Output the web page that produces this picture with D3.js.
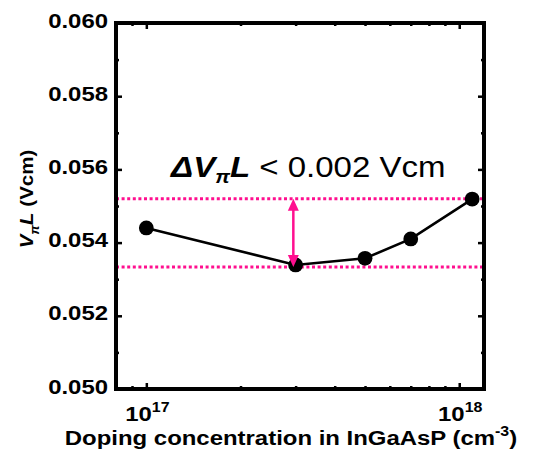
<!DOCTYPE html>
<html>
<head>
<meta charset="utf-8">
<script src="https://cdn.jsdelivr.net/npm/d3@7"></script>
<style>
  body { margin: 0; background: #fff; }
  text { font-family: 'Liberation Sans', Arial, sans-serif; }
</style>
</head>
<body>
<div id="chart"></div>
<script>
// data
const dopingConc = [1e17, 3e17, 5e17, 7e17, 1.1e18];
const vpiL = [0.05440, 0.05339, 0.05357, 0.05410, 0.05519];
const boundLines = [0.05520, 0.05333];
const arrowAt = 2.95e17;
const yTicks = [0.050, 0.052, 0.054, 0.056, 0.058, 0.060];
const xTickExp = [17, 18];

// measures
const width = 533, height = 458;
const plotLeft = 116, plotRight = 484, plotTop = 23, plotBottom = 389;
const sx = 1.14; // text looks stretched a bit horizontally
const pink = '#ff0f8f';

const svg = d3.select('#chart').append('svg')
    .attr('width', width)
    .attr('height', height);

const x = d3.scaleLog().domain([8e16, 1.2e18]).range([plotLeft, plotRight]);
const y = d3.scaleLinear().domain([0.050, 0.060]).range([plotBottom, plotTop]);

// minor + major ticks, pointing inward on all four sides
const xMinor = x.ticks().filter(d => Math.abs(Math.log10(d) - Math.round(Math.log10(d))) > 1e-6);
const xMajor = xTickExp.map(e => Math.pow(10, e));
const yMinor = d3.range(0.051, 0.0600, 0.002);

function ticks(axisFn, scale, values, size, pos) {
    svg.append('g')
        .attr('transform', pos)
        .call(axisFn(scale).tickValues(values).tickSize(size).tickFormat(''))
        .call(g => g.select('.domain').remove())
        .call(g => g.selectAll('line').attr('stroke', '#000').attr('stroke-width', 2.5));
}
ticks(d3.axisBottom, x, xMinor, -3, `translate(0,${plotBottom})`);
ticks(d3.axisBottom, x, xMajor, -6, `translate(0,${plotBottom})`);
ticks(d3.axisTop, x, xMinor, -3, `translate(0,${plotTop})`);
ticks(d3.axisTop, x, xMajor, -6, `translate(0,${plotTop})`);
ticks(d3.axisLeft, y, yMinor, -3, `translate(${plotLeft},0)`);
ticks(d3.axisLeft, y, yTicks, -6, `translate(${plotLeft},0)`);
ticks(d3.axisRight, y, yMinor, -3, `translate(${plotRight},0)`);
ticks(d3.axisRight, y, yTicks, -6, `translate(${plotRight},0)`);

// bound lines (dotted pink)
svg.selectAll('.bound').data(boundLines).enter().append('line')
    .attr('x1', plotLeft).attr('x2', plotRight)
    .attr('y1', d => y(d)).attr('y2', d => y(d))
    .attr('stroke', pink)
    .attr('stroke-width', 3)
    .attr('stroke-dasharray', '3,2.6');

// data line + markers
const pts = dopingConc.map((d, i) => [d, vpiL[i]]);
svg.append('path')
    .datum(pts)
    .attr('d', d3.line().x(d => x(d[0])).y(d => y(d[1])))
    .attr('fill', 'none')
    .attr('stroke', '#000')
    .attr('stroke-width', 2.6);
svg.selectAll('.pt').data(pts).enter().append('circle')
    .attr('cx', d => x(d[0])).attr('cy', d => y(d[1]))
    .attr('r', 7.4)
    .attr('fill', '#000');

// double arrow between the bounds
const ax = x(arrowAt);
const yTop = y(d3.max(boundLines)), yBot = y(d3.min(boundLines));
const headL = 12, headW = 5.5;
svg.append('line')
    .attr('x1', ax).attr('x2', ax)
    .attr('y1', yTop + headL - 1).attr('y2', yBot - headL + 1)
    .attr('stroke', pink).attr('stroke-width', 2.5);
svg.append('path')
    .attr('d', `M${ax},${yTop} L${ax - headW},${yTop + headL} L${ax + headW},${yTop + headL} Z`)
    .attr('fill', pink);
svg.append('path')
    .attr('d', `M${ax},${yBot} L${ax - headW},${yBot - headL} L${ax + headW},${yBot - headL} Z`)
    .attr('fill', pink);

// frame
svg.append('rect')
    .attr('x', plotLeft).attr('y', plotTop)
    .attr('width', plotRight - plotLeft).attr('height', plotBottom - plotTop)
    .attr('fill', 'none')
    .attr('stroke', '#000')
    .attr('stroke-width', 4);

// y tick labels
svg.selectAll('.ylab').data(yTicks).enter().append('text')
    .attr('transform', d => `translate(108,${y(d) + 4.5}) scale(${sx},1)`)
    .attr('text-anchor', 'end')
    .attr('font-size', 21)
    .attr('font-weight', 'bold')
    .text(d => d.toFixed(3));

// x tick labels 10^n
xTickExp.forEach(e => {
    const t = svg.append('text')
        .attr('transform', `translate(${x(Math.pow(10, e)) + 1},421) scale(${sx},1)`)
        .attr('text-anchor', 'middle')
        .attr('font-size', 21)
        .attr('font-weight', 'bold');
    t.append('tspan').text('10');
    t.append('tspan').attr('dy', -9).attr('font-size', 14).text(e);
});

// x axis title
const xt = svg.append('text')
    .attr('transform', `translate(291,445) scale(${sx},1)`)
    .attr('text-anchor', 'middle')
    .attr('font-size', 21)
    .attr('font-weight', 'bold');
xt.append('tspan').text('Doping concentration in InGaAsP (cm');
xt.append('tspan').attr('dy', -9).attr('font-size', 14).text('-3');
xt.append('tspan').attr('dy', 9).text(')');

// y axis title
const yt = svg.append('text')
    .attr('transform', `translate(33,199) rotate(-90) scale(${sx},1)`)
    .attr('text-anchor', 'middle')
    .attr('font-size', 18)
    .attr('font-weight', 'bold');
yt.append('tspan').attr('font-style', 'italic').text('V');
yt.append('tspan').attr('font-style', 'italic').attr('font-size', 12).attr('dy', 6).text('π');
yt.append('tspan').attr('font-style', 'italic').attr('dy', -6).text('L');
yt.append('tspan').text(' (Vcm)');

// annotation
const an = svg.append('text')
    .attr('transform', `translate(171,177) scale(1.1,1)`)
    .attr('font-size', 30);
an.append('tspan').attr('font-style', 'italic').attr('font-weight', 'bold').text('ΔV');
an.append('tspan').attr('font-style', 'italic').attr('font-weight', 'bold')
    .attr('font-size', 19).attr('dy', 6).text('π');
an.append('tspan').attr('font-style', 'italic').attr('font-weight', 'bold').attr('dy', -6).text('L');
an.append('tspan').text(' < 0.002 Vcm');
</script>
</body>
</html>
